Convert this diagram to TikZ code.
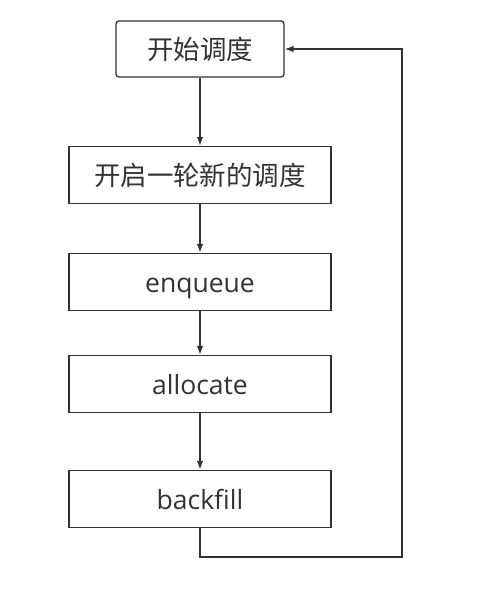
\documentclass[tikz,border=0pt]{standalone}
\usepackage{fontspec}
\setmainfont{Open Sans}
\newfontfamily\cjk{Noto Sans CJK SC}
\usetikzlibrary{arrows.meta}
\definecolor{txtgray}{HTML}{333333}

\begin{document}
\begin{tikzpicture}[x=1pt,y=1pt,
  box/.style={draw=txtgray,line width=1.3pt,minimum height=57pt,minimum width=262pt,
    text=txtgray,font=\fontsize{26.5}{30}\selectfont,inner sep=0pt,
    text height=21pt,text depth=0pt},
  flow/.style={draw=txtgray,line width=1.3pt,-{Latex[length=9pt,width=6.5pt]}}]
\useasboundingbox (0,0) rectangle (503,598);
\node[box,minimum width=168pt,minimum height=56pt,rounded corners=3pt] (start) at (200,549) {\cjk 开始调度};
\node[box] (newround) at (200,423) {\cjk 开启一轮新的调度};
\node[box] (enq) at (200,316) {enqueue};
\node[box] (alloc) at (200,214) {allocate};
\node[box] (bfill) at (200,99) {backfill};
\coordinate (loopcorner) at (402,41);
\draw[flow] (start) -- (newround);
\draw[flow] (newround) -- (enq);
\draw[flow] (enq) -- (alloc);
\draw[flow] (alloc) -- (bfill);
\draw[flow] (bfill.south) |- (loopcorner) |- (start.east);
\end{tikzpicture}
\end{document}
